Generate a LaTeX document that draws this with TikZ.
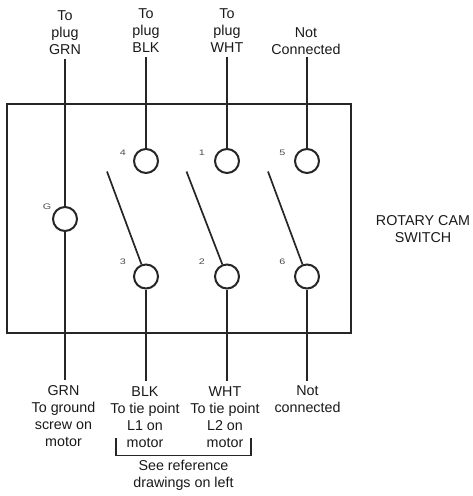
\documentclass[tikz,border=0pt]{standalone}
\usepackage{fontspec}
\setmainfont{Liberation Sans}
\newfontfamily\pinfont[FakeStretch=1.35]{Liberation Sans}
\begin{document}
\begin{tikzpicture}[
        x=1pt, y=-1pt,
        wire/.style={line width=2pt, draw=black!85},
        terminal/.style={circle, draw=black!85, line width=2pt, fill=white, minimum size=24pt, inner sep=0pt},
        lever/.style={line width=1.7pt, draw=black!85},
        housing/.style={rectangle, draw=black!85, line width=2pt, minimum width=344.5pt, minimum height=229.5pt, inner sep=0pt},
        txt/.style={align=center, inner sep=0pt, text=black!90, font=\fontsize{14.3}{17}\selectfont},
        pin/.style={inner sep=0pt, text=black!70, font=\pinfont\fontsize{8}{8}\selectfont}
    ]
        \useasboundingbox (0, 0) rectangle (473, 496);

        % Switch housing
        \node[housing] (housing) at (178.75, 218.25) {};

        % Terminals
        \node[terminal] (termG) at (65, 219) {};
        \node[terminal] (term4) at (146, 161) {};
        \node[terminal] (term1) at (227, 161) {};
        \node[terminal] (term5) at (307, 161) {};
        \node[terminal] (term3) at (146, 276.5) {};
        \node[terminal] (term2) at (227, 276.5) {};
        \node[terminal] (term6) at (307, 276.5) {};

        % Pin numbers
        \node[pin] (pinG) at (47, 207) {G};
        \node[pin] (pin4) at (123, 153) {4};
        \node[pin] (pin1) at (202, 153) {1};
        \node[pin] (pin5) at (282.5, 153) {5};
        \node[pin] (pin3) at (123, 262) {3};
        \node[pin] (pin2) at (202, 262) {2};
        \node[pin] (pin6) at (282.5, 262) {6};

        % Upper labels
        \node[txt] (plugGrn) at (65, 32.5) {To\\plug\\GRN};
        \node[txt] (plugBlk) at (146, 31) {To\\plug\\BLK};
        \node[txt] (plugWht) at (227, 31) {To\\plug\\WHT};
        \node[txt] (plugNc) at (306, 41) {Not\\Connected};

        % Lower labels
        \node[txt] (lowGrn) at (63.5, 416) {GRN\\To ground\\screw on\\motor};
        \node[txt] (lowBlk) at (145, 417) {BLK\\To tie point\\L1 on\\motor};
        \node[txt] (lowWht) at (225, 417) {WHT\\To tie point\\L2 on\\motor};
        \node[txt] (lowNc) at (307.5, 399) {Not\\connected};
        \node[txt] (seeRef) at (183.5, 475.5) {See reference\\drawings on left};
        \node[txt] (rotary) at (423, 229) {ROTARY CAM\\SWITCH};

        % Free ends of the wires
        \coordinate (topG) at (65, 59);
        \coordinate (top4) at (146, 57);
        \coordinate (top1) at (227, 57);
        \coordinate (top5) at (307, 57);
        \coordinate (botG) at (65, 380);
        \coordinate (bot3) at (146, 381);
        \coordinate (bot2) at (227, 381);
        \coordinate (bot6) at (307, 381);

        % Wires
        \draw[wire] (topG) -- (termG);
        \draw[wire] (top4) -- (term4);
        \draw[wire] (top1) -- (term1);
        \draw[wire] (top5) -- (term5);
        \draw[wire] (termG) -- (botG);
        \draw[wire] (term3) -- (bot3);
        \draw[wire] (term2) -- (bot2);
        \draw[wire] (term6) -- (bot6);

        % Levers
        \coordinate (leverA) at (107, 171.5);
        \coordinate (leverB) at (186.5, 171.5);
        \coordinate (leverC) at (268, 171.5);
        \draw[lever] (leverA) -- (term3);
        \draw[lever] (leverB) -- (term2);
        \draw[lever] (leverC) -- (term6);

        % Bracket
        \coordinate (brackL) at (116, 438);
        \coordinate (brackR) at (251, 438);
        \draw[wire, line width=1.5pt] (brackL) -- (116, 455.5) -- (251, 455.5) -- (brackR);
    \end{tikzpicture}
\end{document}
